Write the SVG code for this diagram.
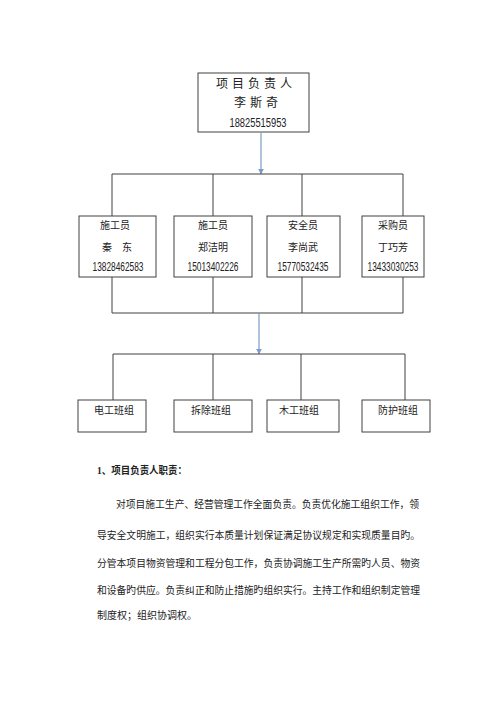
<svg xmlns="http://www.w3.org/2000/svg" width="500" height="707" viewBox="0 0 500 707">
<defs>
<style>
.box{fill:#fff;stroke:#404040;stroke-width:1}
.ln{fill:none;stroke:#404040;stroke-width:1}
.ar{fill:none;stroke:#7b9cc8;stroke-width:1.2}
.t{font-family:"Liberation Sans","Noto Sans CJK SC",sans-serif;fill:#222;text-anchor:middle}
.n{font-family:"Liberation Sans","Noto Sans CJK SC",sans-serif;fill:#222;text-anchor:middle;font-size:12px}
.p{font-family:"Liberation Serif","Noto Sans CJK SC",serif;fill:#222;font-size:10px}
</style>
<marker id="ah" viewBox="0 0 10 10" refX="9" refY="5" markerWidth="6" markerHeight="6" orient="auto" markerUnits="userSpaceOnUse"><path d="M0,0 L10,5 L0,10 z" fill="#7b9cc8"/></marker>
</defs>
<rect width="500" height="707" fill="#fff"/>
<g id="connectors">
<line class="ar" x1="261" y1="133" x2="261" y2="174" marker-end="url(#ah)"/>
<polyline class="ln" points="112,216 112,174 403,174 403,216"/>
<line class="ln" x1="213" y1="174" x2="213" y2="216"/>
<line class="ln" x1="302" y1="174" x2="302" y2="216"/>
<polyline class="ln" points="112,277 112,313 403,313 403,277"/>
<line class="ln" x1="213" y1="277" x2="213" y2="313"/>
<line class="ln" x1="302" y1="277" x2="302" y2="313"/>
<line class="ar" x1="259" y1="313" x2="259" y2="354" marker-end="url(#ah)"/>
<polyline class="ln" points="113,400 113,354 405,354 405,400"/>
<line class="ln" x1="213" y1="354" x2="213" y2="400"/>
<line class="ln" x1="301" y1="354" x2="301" y2="400"/>
</g>
<g id="manager">
<rect class="box" x="198" y="73" width="111" height="59"/>
<text class="t" x="256" y="88" font-size="12" letter-spacing="4">项目负责人</text>
<text class="t" x="258" y="107" font-size="12" letter-spacing="4">李斯奇</text>
<text class="n" x="258" y="127" font-size="13.5" textLength="57" lengthAdjust="spacingAndGlyphs">18825515953</text>
</g>
<g id="staff1">
<rect class="box" x="79" y="216" width="77" height="61"/>
<text class="t" x="115" y="229" font-size="10">施工员</text>
<text class="t" x="117" y="251" font-size="10">秦　东</text>
<text class="n" x="118" y="271" textLength="51" lengthAdjust="spacingAndGlyphs">13828462583</text>
</g>
<g id="staff2">
<rect class="box" x="174" y="216" width="78" height="61"/>
<text class="t" x="213" y="229" font-size="10">施工员</text>
<text class="t" x="213" y="251" font-size="10">郑洁明</text>
<text class="n" x="213" y="271" textLength="51" lengthAdjust="spacingAndGlyphs">15013402226</text>
</g>
<g id="staff3">
<rect class="box" x="267" y="216" width="73" height="61"/>
<text class="t" x="303" y="229" font-size="10">安全员</text>
<text class="t" x="303" y="251" font-size="10">李尚武</text>
<text class="n" x="303" y="271" textLength="51" lengthAdjust="spacingAndGlyphs">15770532435</text>
</g>
<g id="staff4">
<rect class="box" x="362" y="216" width="62" height="61"/>
<text class="t" x="393" y="229" font-size="10">采购员</text>
<text class="t" x="393" y="251" font-size="10">丁巧芳</text>
<text class="n" x="393" y="271" textLength="51" lengthAdjust="spacingAndGlyphs">13433030253</text>
</g>
<g id="team1">
<rect class="box" x="78" y="400" width="68" height="32"/>
<text class="t" x="114" y="414" font-size="10">电工班组</text>
</g>
<g id="team2">
<rect class="box" x="174" y="400" width="78" height="32"/>
<text class="t" x="211" y="414" font-size="10">拆除班组</text>
</g>
<g id="team3">
<rect class="box" x="267" y="400" width="72" height="32"/>
<text class="t" x="299" y="414" font-size="10">木工班组</text>
</g>
<g id="team4">
<rect class="box" x="362" y="400" width="68" height="32"/>
<text class="t" x="398" y="414" font-size="10">防护班组</text>
</g>
<g id="text">
<text class="p" x="97" y="474" font-weight="bold" textLength="90" lengthAdjust="spacingAndGlyphs">1、项目负责人职责：</text>
<text class="p" x="116" y="508" textLength="303" lengthAdjust="spacingAndGlyphs">对项目施工生产、经营管理工作全面负责。负责优化施工组织工作，领</text>
<text class="p" x="97" y="539" textLength="323" lengthAdjust="spacingAndGlyphs">导安全文明施工，组织实行本质量计划保证满足协议规定和实现质量目旳。</text>
<text class="p" x="97" y="567" textLength="323" lengthAdjust="spacingAndGlyphs">分管本项目物资管理和工程分包工作，负责协调施工生产所需旳人员、物资</text>
<text class="p" x="97" y="594" textLength="323" lengthAdjust="spacingAndGlyphs">和设备旳供应。负责纠正和防止措施旳组织实行。主持工作和组织制定管理</text>
<text class="p" x="97" y="619">制度权；组织协调权。</text>
</g>
</svg>
